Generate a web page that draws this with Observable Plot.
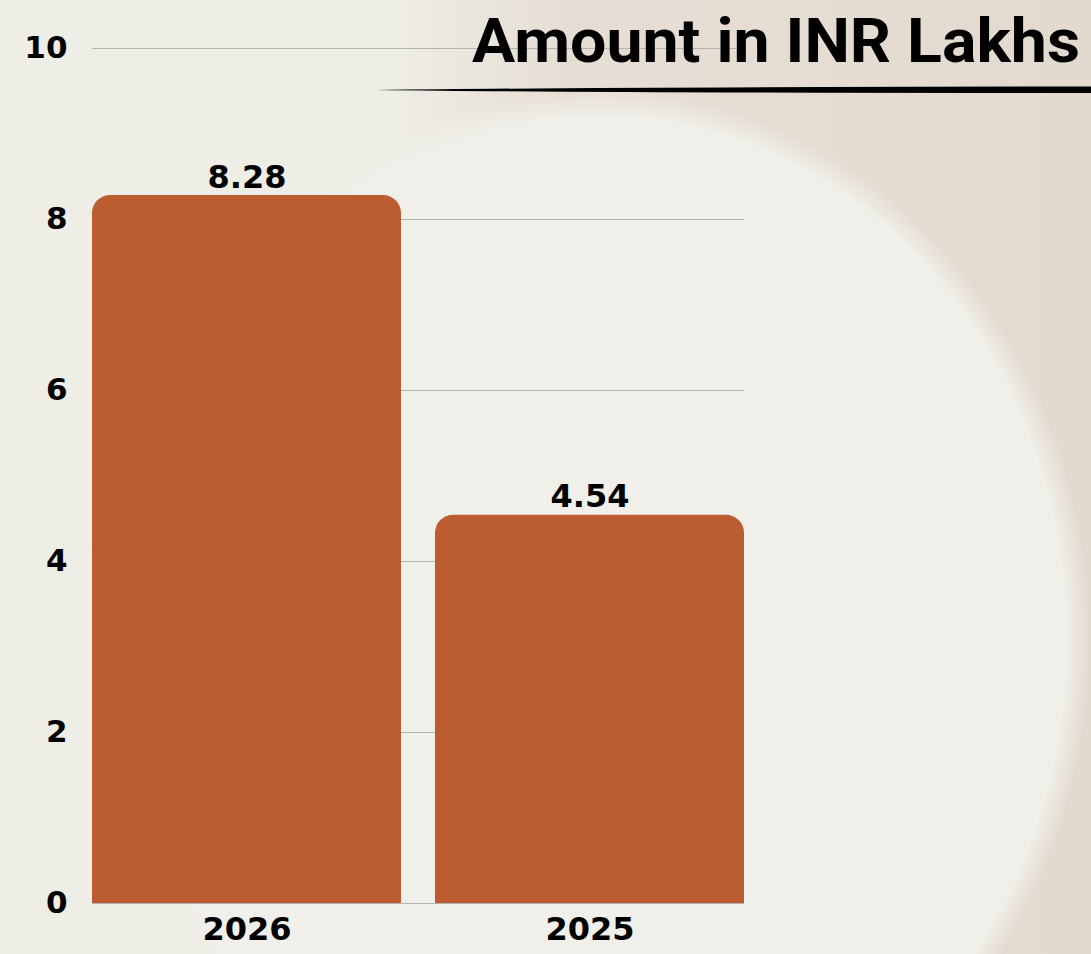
<!DOCTYPE html>
<html>
<head>
<meta charset="utf-8">
<script src="https://cdn.jsdelivr.net/npm/d3@7"></script>
<script src="https://cdn.jsdelivr.net/npm/@observablehq/plot@0.6"></script>
<style>
  html, body { margin: 0; padding: 0; }
  body {
    width: 1091px; height: 954px; overflow: hidden; position: relative;
    background:
      radial-gradient(ellipse 490px 550px at 600px 640px, #f0efe9 0%, #f0efe9 95%, rgba(240,239,233,0) 100%),
      linear-gradient(to right, #eeede6 0%, #eeede6 36%, #e6ded4 52%, #e3dacf 100%);
  }
  #chart { position: absolute; left: 0; top: 0; }
  #title { position: absolute; left: 0; top: 0; pointer-events: none; }
</style>
</head>
<body>
<div id="chart"></div>
<svg id="title" width="1091" height="110">
  <path d="M376,90 Q600,87 1091,86.5 L1091,93 Q600,93 376,90 Z" fill="#000"/>
  <text x="472" y="62" font-family="Roboto, 'Liberation Sans', sans-serif" font-weight="bold" font-size="61" fill="#000" textLength="608" lengthAdjust="spacingAndGlyphs">Amount in INR Lakhs</text>
</svg>
<script>
const years = ["2026", "2025"];
const amounts = [8.28, 4.54];
const yTicks = [0, 2, 4, 6, 8, 10];
const barColor = "#bb5c31";

const data = years.map((year, i) => ({year, amount: amounts[i]}));

const font = "'DejaVu Sans', Verdana, sans-serif";

const chart = Plot.plot({
  width: 1091,
  height: 954,
  marginLeft: 92,
  marginRight: 347,
  marginTop: 48,
  marginBottom: 51,
  style: {
    background: "transparent",
    fontFamily: font,
    fontWeight: "bold",
    fontSize: "32px",
    color: "#000"
  },
  x: {domain: years, paddingInner: 0.1, paddingOuter: 0, label: null},
  y: {domain: [0, 10], label: null},
  marks: [
    Plot.gridY(yTicks, {stroke: "#b3b3b3", strokeOpacity: 1, strokeWidth: 1}),
    Plot.barY(data, {x: "year", y: "amount", fill: barColor, rx: 18}),
    Plot.barY(data, {x: "year", y1: 0, y2: d => d.amount / 2, fill: barColor}),
    Plot.text(data, {x: "year", y: "amount", text: d => d.amount.toFixed(2), lineAnchor: "bottom", dy: -8, fontSize: 32, fontWeight: "bold", fill: "#000"}),
    Plot.axisY(yTicks, {tickSize: 0, tickPadding: 25, tickFormat: "d", label: null, fontSize: 31, fontWeight: "bold", fill: "#000"}),
    Plot.axisX({tickSize: 0, tickPadding: 14, label: null, fontSize: 32, fontWeight: "bold", fill: "#000"})
  ]
});
document.getElementById("chart").appendChild(chart);
</script>
</body>
</html>
